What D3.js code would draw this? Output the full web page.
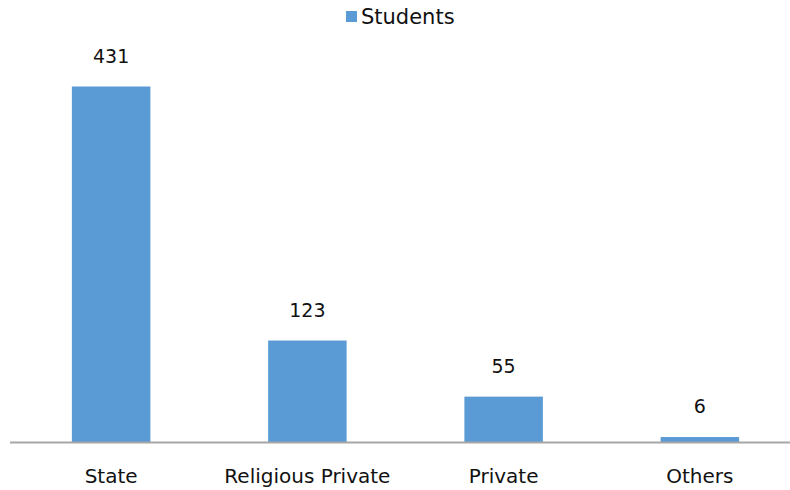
<!DOCTYPE html>
<meta charset="utf-8">
<title>Students</title>
<style>
body {
  margin: 0px;
  background: #fff;
}
text {
  font-family: "DejaVu Sans", sans-serif;
  fill: #111;
}
.value { font-size: 19px; }
.cat { font-size: 20px; }
.legend text { font-size: 21px; }
</style>
<script src="https://d3js.org/d3.v7.min.js"></script>
<body>
<script>
var width = 790, height = 490;

var categories = ["State", "Religious Private", "Private", "Others"];
var students = [431, 123, 55, 6];
var seriesName = "Students";

var svg = d3.select("body").append("svg")
    .attr("width", width)
    .attr("height", height);

var baseline = 442;

var x = d3.scaleBand()
    .domain(categories)
    .range([13, 798])
    .paddingInner(0.6)
    .paddingOuter(0.3);

var y = d3.scaleLinear()
    .domain([0, 431])
    .range([baseline, 86.5]);

// bars
svg.selectAll("rect.bar")
    .data(students)
  .enter().append("rect")
    .attr("class", "bar")
    .attr("x", function(d, i) { return x(categories[i]); })
    .attr("y", function(d) { return y(d); })
    .attr("width", x.bandwidth())
    .attr("height", function(d) { return baseline - y(d); })
    .attr("fill", "#5b9bd5");

// value labels
svg.selectAll("text.value")
    .data(students)
  .enter().append("text")
    .attr("class", "value")
    .attr("x", function(d, i) { return x(categories[i]) + x.bandwidth() / 2; })
    .attr("y", function(d) { return y(d) - 24; })
    .style("text-anchor", "middle")
    .text(function(d) { return d; });

// axis line
svg.append("line")
    .attr("x1", 10)
    .attr("x2", width)
    .attr("y1", baseline + 0.5)
    .attr("y2", baseline + 0.5)
    .attr("stroke", "#a6a6a6")
    .attr("stroke-width", 2);

// category labels
svg.selectAll("text.cat")
    .data(categories)
  .enter().append("text")
    .attr("class", "cat")
    .attr("x", function(d) { return x(d) + x.bandwidth() / 2; })
    .attr("y", 483)
    .style("text-anchor", "middle")
    .text(function(d) { return d; });

// legend
var legend = svg.append("g")
    .attr("class", "legend")
    .attr("transform", "translate(346,11)");
legend.append("rect")
    .attr("width", 11)
    .attr("height", 11)
    .attr("fill", "#5b9bd5");
legend.append("text")
    .attr("x", 15)
    .attr("y", 13)
    .text(seriesName);
</script>
